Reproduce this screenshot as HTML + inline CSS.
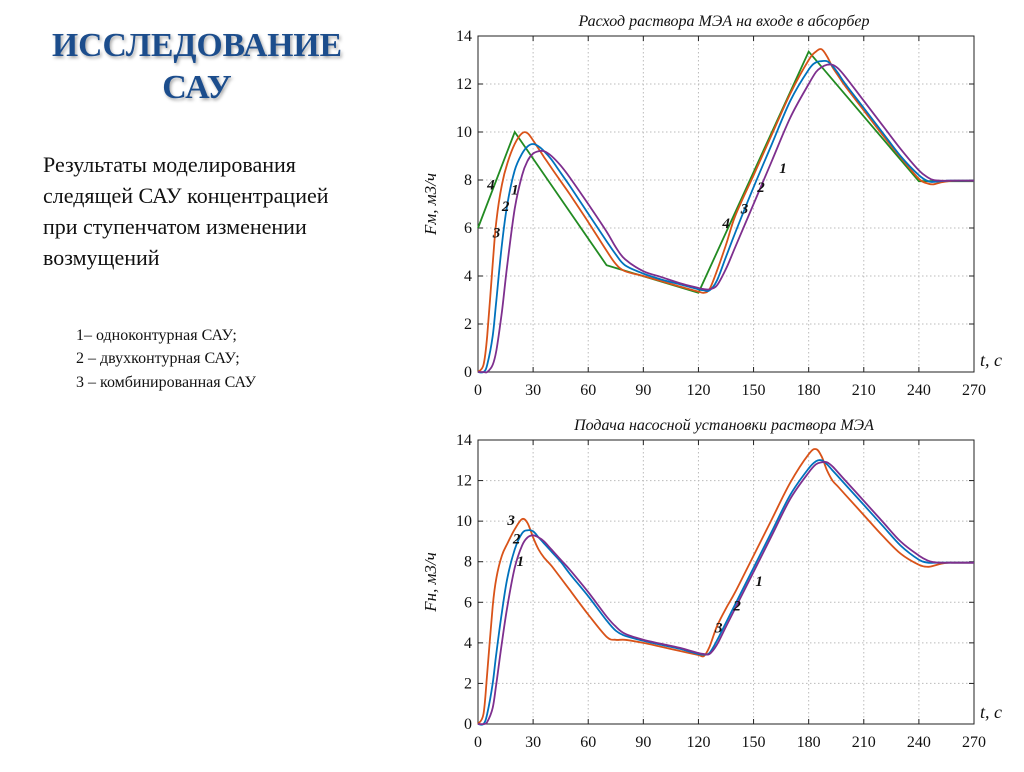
<!DOCTYPE html>
<html><head><meta charset="utf-8"><style>
body{margin:0;background:#fff;width:1024px;height:767px;overflow:hidden;font-family:"Liberation Serif",serif}
svg text{font-family:"Liberation Serif",serif}
</style></head><body>
<svg id="s" width="1024" height="767" viewBox="0 0 1024 767">
<defs><filter id="sh" x="-10%" y="-10%" width="130%" height="140%"><feDropShadow dx="1.5" dy="2" stdDeviation="1.5" flood-color="#000" flood-opacity="0.35"/></filter></defs>
<g filter="url(#sh)" font-weight="bold" font-size="34" fill="#1f4e8c" text-anchor="middle">
<text x="197" y="56" textLength="290" lengthAdjust="spacingAndGlyphs">ИССЛЕДОВАНИЕ</text><text x="197" y="98">САУ</text></g>
<g font-size="22" fill="#111">
<text x="43" y="172">Результаты моделирования</text>
<text x="43" y="203">следящей САУ концентрацией</text>
<text x="43" y="234">при ступенчатом изменении</text>
<text x="43" y="265">возмущений</text></g>
<g font-size="16" fill="#111">
<text x="76" y="340">1– одноконтурная САУ;</text>
<text x="76" y="363">2 – двухконтурная САУ;</text>
<text x="76" y="387">3 – комбинированная САУ</text></g>
<g id="c1"></g>
<g id="c2"></g>
</svg>
<script>
const T=[0,3,5,8,10,13,16,20,24,27,30,33,36,40,45,50,60,70,75,80,90,100,110,120,123,126,130,135,140,150,160,170,180,184,187,190,193,196,200,210,220,230,240,245,248,252,256,260,270];
const top3=[0,0.3,1.5,4.5,6.3,7.8,8.7,9.5,9.95,9.95,9.65,9.3,8.95,8.5,7.95,7.4,6.25,5.05,4.5,4.2,4.0,3.78,3.56,3.35,3.3,3.45,4.2,5.3,6.5,8.2,9.9,11.6,13.0,13.35,13.45,13.15,12.7,12.35,11.9,10.9,9.9,8.95,8.05,7.85,7.82,7.9,7.95,7.97,7.97];
const top2=[0,0,0.3,1.5,3,5.3,7.0,8.4,9.1,9.4,9.5,9.4,9.2,8.85,8.3,7.75,6.6,5.45,4.9,4.45,4.1,3.85,3.65,3.45,3.4,3.4,3.8,4.8,5.8,7.7,9.5,11.3,12.6,12.9,12.95,12.95,12.75,12.45,12.0,11.0,10.0,9.0,8.2,7.95,7.92,7.95,7.97,7.97,7.97];
const top1=[0,0,0,0.3,0.9,2.5,4.5,6.8,8.2,8.8,9.1,9.2,9.2,9.0,8.6,8.1,7.0,5.85,5.2,4.7,4.2,3.95,3.7,3.5,3.45,3.45,3.6,4.3,5.2,7.0,8.8,10.6,12.0,12.5,12.7,12.8,12.8,12.65,12.3,11.3,10.3,9.3,8.4,8.1,8.0,7.97,7.97,7.97,7.97];
const T4=[0,20,70,120,180,240,270];
const top4=[6,10,4.45,3.3,13.35,7.95,7.95];
const bot3=[0,0.5,2.5,5.8,7.2,8.3,8.9,9.6,10.1,9.9,9.2,8.6,8.2,7.8,7.2,6.6,5.4,4.3,4.15,4.15,4.0,3.8,3.6,3.4,3.35,3.8,4.8,5.7,6.5,8.3,10.1,11.9,13.3,13.55,13.2,12.5,12.0,11.7,11.3,10.3,9.3,8.4,7.85,7.75,7.8,7.9,7.95,7.95,7.95];
const bot2=[0,0,0.5,2,3.5,5.5,7.2,8.6,9.4,9.55,9.5,9.2,8.9,8.5,8.0,7.4,6.3,5.1,4.6,4.35,4.1,3.9,3.7,3.45,3.42,3.5,4.1,5.0,5.9,7.7,9.5,11.3,12.6,12.95,13.0,12.8,12.5,12.2,11.8,10.8,9.8,8.8,8.1,7.95,7.95,7.95,7.95,7.95,7.95];
const bot1=[0,0,0.1,0.8,2,4,5.8,7.7,8.8,9.2,9.3,9.2,9.0,8.6,8.1,7.6,6.5,5.3,4.8,4.45,4.15,3.95,3.75,3.5,3.45,3.45,3.9,4.8,5.7,7.5,9.3,11.1,12.4,12.8,12.9,12.9,12.7,12.4,12.0,11.0,10.0,9.0,8.3,8.05,7.98,7.95,7.95,7.95,7.95];
const xTicks=[0,30,60,90,120,150,180,210,240,270];
const yTicks=[0,2,4,6,8,10,12,14];
const NS="http://www.w3.org/2000/svg";
function mk(p,tag,at){const e=document.createElementNS(NS,tag);for(const k in at)e.setAttribute(k,at[k]);p.appendChild(e);return e;}
function smooth(pts){let d="M"+pts[0][0]+","+pts[0][1];for(let i=0;i<pts.length-1;i++){const p0=pts[Math.max(0,i-1)],p1=pts[i],p2=pts[i+1],p3=pts[Math.min(pts.length-1,i+2)];const c1=[p1[0]+(p2[0]-p0[0])/6,p1[1]+(p2[1]-p0[1])/6],c2=[p2[0]-(p3[0]-p1[0])/6,p2[1]-(p3[1]-p1[1])/6];d+=" C"+c1[0].toFixed(1)+","+c1[1].toFixed(1)+" "+c2[0].toFixed(1)+","+c2[1].toFixed(1)+" "+p2[0].toFixed(1)+","+p2[1].toFixed(1);}return d;}
function chart(g,cfg){
 const L=478,R=974,Tp=cfg.top,B=cfg.bot;
 const sx=t=>L+(R-L)*t/270, sy=v=>B-(B-Tp)*v/14;
 const t=mk(g,'text',{x:724,y:Tp-10,'font-size':16,'font-style':'italic','text-anchor':'middle',fill:'#111'});t.textContent=cfg.title;
 
 
 xTicks.forEach(v=>{if(v>0&&v<270){const l=mk(g,'line',{x1:sx(v),x2:sx(v),y1:Tp,y2:B,stroke:'#bbb','stroke-dasharray':'1.5,2.5'});}
  mk(g,'line',{x1:sx(v),x2:sx(v),y1:B,y2:B-5,stroke:'#222'});mk(g,'line',{x1:sx(v),x2:sx(v),y1:Tp,y2:Tp+5,stroke:'#222'});
  const tx=mk(g,'text',{x:sx(v),y:B+23,'font-size':16,'text-anchor':'middle',fill:'#111'});tx.textContent=v;
  
  });
 yTicks.forEach(v=>{if(v>0&&v<14){const l=mk(g,'line',{x1:L,x2:R,y1:sy(v),y2:sy(v),stroke:'#bbb','stroke-dasharray':'1.5,2.5'});}
  mk(g,'line',{x1:L,x2:L+5,y1:sy(v),y2:sy(v),stroke:'#222'});mk(g,'line',{x1:R,x2:R-5,y1:sy(v),y2:sy(v),stroke:'#222'});
  const tx=mk(g,'text',{x:L-6,y:sy(v)+5,'font-size':16,'text-anchor':'end',fill:'#111'});tx.textContent=v;
  
  });
 const fr=mk(g,'rect',{x:L,y:Tp,width:R-L,height:B-Tp,fill:'none',stroke:'#222','stroke-width':1});
 
 
 const yl=mk(g,'text',{x:0,y:0,'font-size':17,'font-style':'italic','text-anchor':'middle',fill:'#111',transform:`translate(${L-42},${(Tp+B)/2}) rotate(-90)`});yl.textContent=cfg.ylab;
 
 
 const xl=mk(g,'text',{x:R+6,y:B-6,'font-size':18,'font-style':'italic',fill:'#111'});xl.textContent='t, c';
 
 
 cfg.series.forEach(s=>{const pts=s.t.map((tt,i)=>[sx(tt),sy(s.v[i])]);
  const p=mk(g,'path',{d:s.lin?"M"+pts.map(q=>q[0]+","+q[1]).join(" L"):smooth(pts),fill:'none',stroke:s.c,'stroke-width':1.8});
  
  });
 cfg.labels.forEach(a=>{const tx=mk(g,'text',{x:sx(a[1]),y:sy(a[2]),'font-size':15,'font-weight':'bold','font-style':'italic',fill:'#111'});tx.textContent=a[0];
  
  });
}
chart(document.getElementById('c1'),{top:36,bot:372,title:'Расход раствора МЭА на входе в абсорбер',ylab:'Fм, м3/ч',
 series:[{t:T4,v:top4,c:'#228b22',n:'series-4-line',lin:1},{t:T,v:top3,c:'#d95319',n:'series-3-line'},{t:T,v:top2,c:'#0072bd',n:'series-2-line'},{t:T,v:top1,c:'#7e2f8e',n:'series-1-line'}],
 labels:[['4',5,7.6],['3',8,5.6],['2',13,6.7],['1',18,7.4],['4',133,6.0],['3',143,6.6],['2',152,7.5],['1',164,8.3]]});
chart(document.getElementById('c2'),{top:440,bot:724,title:'Подача насосной установки раствора МЭА',ylab:'Fн, м3/ч',
 series:[{t:T,v:bot3,c:'#d95319',n:'series-3-line'},{t:T,v:bot2,c:'#0072bd',n:'series-2-line'},{t:T,v:bot1,c:'#7e2f8e',n:'series-1-line'}],
 labels:[['3',16,9.8],['2',19,8.9],['1',21,7.8],['3',129,4.5],['2',139,5.6],['1',151,6.8]]});
</script>
</body></html>
